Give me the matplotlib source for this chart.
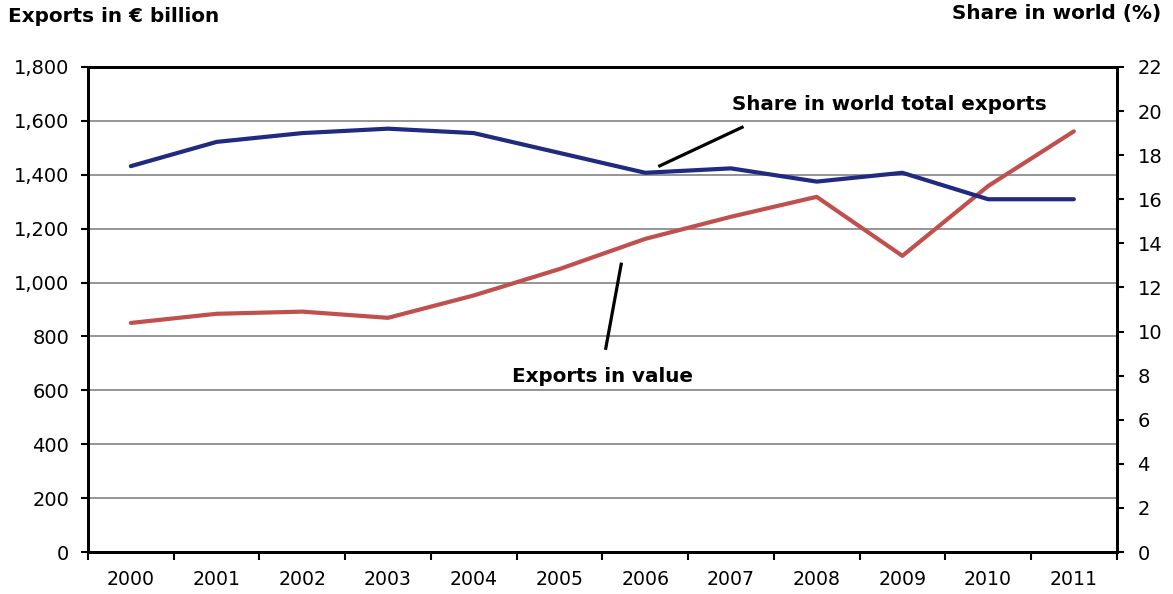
import matplotlib
matplotlib.use("Agg")
import matplotlib.pyplot as plt
from matplotlib.ticker import FuncFormatter, FixedLocator

# Data
years = ["2000", "2001", "2002", "2003", "2004", "2005",
         "2006", "2007", "2008", "2009", "2010", "2011"]
exports_value = [850, 884, 892, 869, 952, 1050, 1162, 1244, 1318, 1099, 1358, 1561]  # € billion
world_share = [17.5, 18.6, 19.0, 19.2, 19.0, 18.1, 17.2, 17.4, 16.8, 17.2, 16.0, 16.0]  # %

left_ticks = list(range(0, 1801, 200))
right_ticks = list(range(0, 23, 2))

RED = "#c0504d"
NAVY = "#1f2a80"

plt.rcParams["font.family"] = ["DejaVu Sans"]

fig = plt.figure(figsize=(11.73, 5.94), dpi=100)
ax = fig.add_axes([0.075, 0.0707, 0.877, 0.8166])
ax2 = ax.twinx()

x = list(range(len(years)))

ax.plot(x, exports_value, color=RED, lw=3.0, solid_capstyle="round", zorder=3)
ax2.plot(x, world_share, color=NAVY, lw=3.0, solid_capstyle="round", zorder=3)

# Left axis
ax.set_ylim(0, 1800)
ax.set_yticks(left_ticks)
ax.yaxis.set_major_formatter(FuncFormatter(lambda v, p: f"{int(v):,}"))
ax.grid(axis="y", color="#8c8c8c", lw=1.3)
ax.set_axisbelow(True)

# Right axis
ax2.set_ylim(0, 22)
ax2.set_yticks(right_ticks)

# Category axis: labels at centres, tick marks at boundaries
ax.set_xlim(-0.5, len(years) - 0.5)
ax.set_xticks(x)
ax.set_xticklabels(years)
ax.xaxis.set_minor_locator(FixedLocator([i - 0.5 for i in range(len(years) + 1)]))
ax.tick_params(axis="x", which="major", length=0, pad=13, labelsize=13.6)
ax.tick_params(axis="x", which="minor", length=6, width=1.5, direction="out")
ax.tick_params(axis="y", length=5, width=1.5, pad=8.5, labelsize=14)
ax2.tick_params(axis="y", length=5, width=1.5, pad=10, labelsize=14)

for a in (ax, ax2):
    for s in a.spines.values():
        s.set_color("black")
        s.set_linewidth(2.0)

# Series annotations with leader lines
ax.text(8.85, 1660, "Share in world total exports", ha="center", va="center",
        fontsize=14.3, fontweight="bold")
ax.plot([6.17, 7.13], [1433, 1576], color="black", lw=2.3, zorder=4)
ax.text(5.50, 650, "Exports in value", ha="center", va="center",
        fontsize=14.3, fontweight="bold")
ax.plot([5.72, 5.54], [1068, 756], color="black", lw=2.3, zorder=4)

# Axis titles
fig.text(8 / 1173, 1 - 17 / 594, "Exports in € billion", ha="left", va="center",
         fontsize=14.4, fontweight="bold")
fig.text(1161 / 1173, 1 - 14 / 594, "Share in world (%)", ha="right", va="center",
         fontsize=14.4, fontweight="bold")

fig.savefig("out.png", dpi=100)
